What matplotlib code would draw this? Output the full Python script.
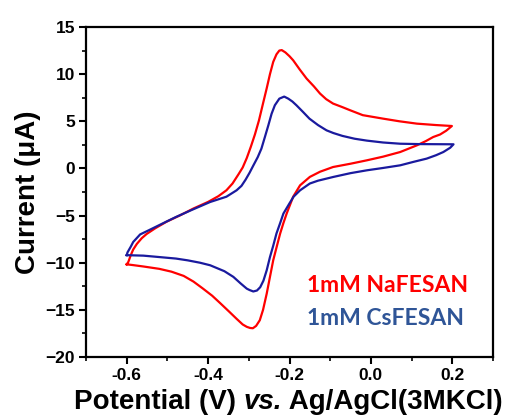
import matplotlib
matplotlib.use("Agg")
import matplotlib.pyplot as plt
from matplotlib.ticker import MultipleLocator

red_x = [-0.600, -0.596, -0.590, -0.584, -0.575, -0.563, -0.551, -0.530, -0.502, -0.470,
         -0.436, -0.400, -0.375, -0.355, -0.340, -0.325, -0.315, -0.305, -0.295, -0.285,
         -0.275, -0.265, -0.256, -0.248, -0.240, -0.232, -0.225, -0.219, -0.210, -0.200,
         -0.191, -0.175, -0.158, -0.140, -0.125, -0.110, -0.093, -0.070, -0.051, -0.020,
         0.030, 0.070, 0.113, 0.160, 0.199,
         0.185, 0.170, 0.153, 0.135, 0.113, 0.072, 0.030, -0.010, -0.050, -0.093,
         -0.125, -0.150, -0.174, -0.191, -0.207, -0.215, -0.223, -0.232, -0.240, -0.248,
         -0.256, -0.265, -0.273, -0.282, -0.290, -0.297, -0.305, -0.315, -0.330, -0.348,
         -0.370, -0.390, -0.414, -0.436, -0.460, -0.490, -0.520, -0.559, -0.585, -0.600]
red_y = [-10.17, -9.92, -9.20, -8.60, -8.00, -7.40, -6.95, -6.35, -5.65, -5.00,
         -4.25, -3.55, -2.95, -2.32, -1.60, -0.60, 0.10, 1.10, 2.30, 3.60,
         5.10, 6.90, 8.50, 10.00, 11.30, 12.10, 12.50, 12.55, 12.30, 11.90,
         11.47, 10.50, 9.53, 8.70, 7.94, 7.35, 6.88, 6.50, 6.17, 5.65,
         5.28, 5.00, 4.75, 4.60, 4.50,
         4.00, 3.60, 3.33, 2.90, 2.45, 1.74, 1.25, 0.86, 0.50, 0.15,
         -0.35, -0.90, -1.79, -3.00, -4.79, -5.80, -6.91, -8.40, -9.74, -11.50,
         -13.28, -15.00, -16.10, -16.70, -16.95, -16.92, -16.80, -16.55, -15.95, -15.20,
         -14.30, -13.50, -12.70, -12.00, -11.40, -10.95, -10.65, -10.40, -10.25, -10.17]

blue_x = [-0.600, -0.598, -0.590, -0.584, -0.567, -0.543, -0.510, -0.479, -0.440, -0.395,
          -0.355, -0.330, -0.318, -0.308, -0.298, -0.289, -0.278, -0.269, -0.260, -0.252, -0.244,
          -0.236, -0.225, -0.213, -0.203, -0.193, -0.183, -0.167, -0.151, -0.130, -0.109,
          -0.092, -0.070, -0.040, -0.010, 0.030, 0.072, 0.120, 0.203,
          0.195, 0.178, 0.160, 0.137, 0.105, 0.072, 0.030, -0.010, -0.050, -0.092,
          -0.130, -0.150, -0.174, -0.190, -0.200, -0.215, -0.223, -0.232, -0.240, -0.248,
          -0.256, -0.264, -0.272, -0.280, -0.289, -0.298, -0.305, -0.320, -0.338, -0.360,
          -0.395, -0.420, -0.450, -0.479, -0.520, -0.559, -0.600]
blue_y = [-9.20, -8.90, -8.30, -7.80, -7.00, -6.50, -5.80, -5.15, -4.40, -3.56,
          -3.00, -2.32, -1.85, -1.20, -0.45, 0.30, 1.20, 2.10, 3.40, 4.57, 5.80,
          6.70, 7.40, 7.62, 7.40, 7.10, 6.70, 6.00, 5.28, 4.60, 4.04,
          3.75, 3.45, 3.15, 2.95, 2.75, 2.62, 2.58, 2.56,
          2.20, 1.74, 1.40, 1.04, 0.70, 0.33, 0.05, -0.20, -0.50, -0.90,
          -1.30, -1.60, -2.32, -3.00, -3.70, -4.79, -5.80, -6.90, -8.20, -9.40,
          -10.80, -11.90, -12.60, -12.95, -13.05, -12.90, -12.75, -12.20, -11.50, -10.90,
          -10.27, -10.00, -9.75, -9.56, -9.40, -9.25, -9.20]

labels = ["1mM NaFESAN", "1mM CsFESAN"]
x_ticks = [-0.6, -0.4, -0.2, 0.0, 0.2]
y_ticks = [-20, -15, -10, -5, 0, 5, 10, 15]
xlabel_parts = ["Potential (V) ", "vs.", " Ag/AgCl(3MKCl)"]

plt.rcParams['font.family'] = ['Liberation Sans', 'DejaVu Sans']

fig = plt.figure(figsize=(5.07, 4.18), dpi=100)
ax = fig.add_axes([86/507, 61/418, 407/507, 330/418])

ax.plot(red_x, red_y, color='#FF0000', lw=1.6)
ax.plot(blue_x, blue_y, color='#1A1A9E', lw=1.6)

ax.set_xlim(-0.7, 0.3)
ax.set_ylim(-20, 15)
ax.set_xticks(x_ticks)
ax.set_xticklabels([f"{v:.1f}" for v in x_ticks])
ax.set_yticks(y_ticks)
ax.xaxis.set_minor_locator(MultipleLocator(0.1))
ax.yaxis.set_minor_locator(MultipleLocator(2.5))
ax.tick_params(which='major', direction='out', length=5, width=1.5, labelsize=12.5, pad=3)
ax.tick_params(which='minor', direction='out', length=3, width=1.2)
for lab in ax.get_xticklabels() + ax.get_yticklabels():
    lab.set_fontweight('bold')
for s in ax.spines.values():
    s.set_linewidth(1.6)

# x label built from pieces (italic "vs.")
t0 = fig.text(74/507, 3/418, xlabel_parts[0], fontsize=20, fontweight='bold',
              ha='left', va='bottom')
t1 = ax.annotate(xlabel_parts[1], xy=(1, 0), xycoords=t0, fontsize=20,
                 fontweight='bold', fontstyle='italic', ha='left', va='bottom',
                 annotation_clip=False)
t2 = ax.annotate(xlabel_parts[2], xy=(1, 0), xycoords=t1, fontsize=20,
                 fontweight='bold', ha='left', va='bottom', annotation_clip=False)

ax.set_ylabel("Current (μA)", fontsize=20, fontweight='bold', labelpad=3)

ax.text(0.542, 0.218, labels[0], transform=ax.transAxes, color='#FF0000',
        fontsize=16.5, family=['Lato', 'DejaVu Sans'], fontweight='bold',
        va='center', ha='left')
ax.text(0.542, 0.118, labels[1], transform=ax.transAxes, color='#2F5597',
        fontsize=16.5, family=['Lato', 'DejaVu Sans'], fontweight='bold',
        va='center', ha='left')

fig.savefig("out.png", dpi=100)
